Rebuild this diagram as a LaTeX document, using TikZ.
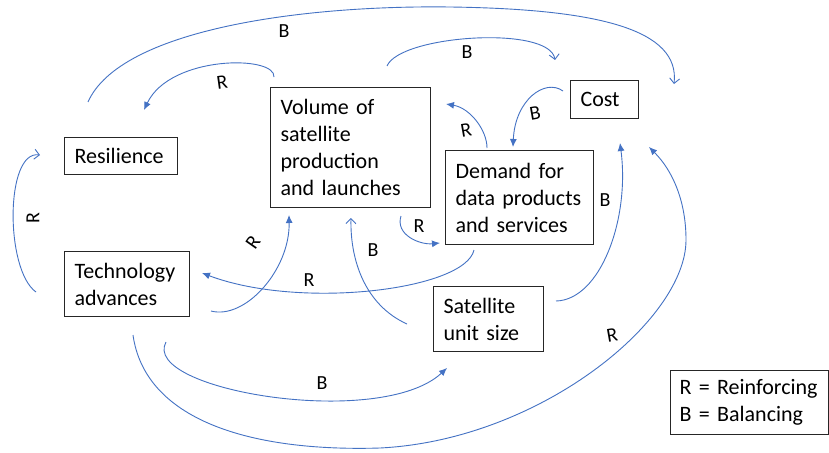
\documentclass[tikz,border=0pt]{standalone}
\usepackage{fontspec}
\setmainfont{Carlito}
\usetikzlibrary{arrows.meta}
\definecolor{linkblue}{HTML}{4472C4}
\begin{document}
\begin{tikzpicture}[x=1pt,y=-1pt,
  box/.style={draw=black!85,line width=1.1pt,anchor=north west,align=left,
    inner xsep=10pt,inner ysep=2pt,font=\fontsize{22}{27}\selectfont},
  link/.style={draw=linkblue,line width=0.9pt},
  fa/.style={link,-{Latex[length=8pt,width=7pt]}},
  oa/.style={link,-{Straight Barb[length=5pt,width=10pt]}},
  lab/.style={font=\fontsize{20}{24}\selectfont,inner sep=0pt}]
\useasboundingbox (0,0) rectangle (829,452);
\fill[white] (0,0) rectangle (829,452);

% boxes
\node[box,text width=93pt,minimum height=37pt] (res) at (64,137) {Resilience};
\node[box,text width=140pt,minimum height=120pt] (vol) at (270,87) {Volume of\\satellite\\production\\and launches};
\node[box,text width=48pt,minimum height=38pt] (cost) at (570,80) {Cost};
\node[box,text width=128pt,minimum height=94pt] (dem) at (445,150) {\mbox{Demand for}\\\mbox{data products}\\\mbox{and services}};
\node[box,text width=105pt,minimum height=65pt] (tech) at (64,251) {Technology\\advances};
\node[box,text width=90pt,minimum height=65pt] (sat) at (433,286) {Satellite\\unit size};
\node[box,text width=140pt,inner xsep=9pt,minimum height=64pt] (leg) at (670,370) {\mbox{R = Reinforcing}\\\mbox{B = Balancing}};

% connector end points
\coordinate (aS) at (88,102);   \coordinate (aE) at (674,84);
\coordinate (bS) at (274,77);   \coordinate (bE) at (144,110);
\coordinate (cS) at (387,66);   \coordinate (cE) at (555,60);
\coordinate (dS) at (563,91);   \coordinate (dE) at (513,147);
\coordinate (eS) at (487,148);  \coordinate (eE) at (446,104);
\coordinate (fS) at (36,292);   \coordinate (fE) at (40,155);
\coordinate (gS) at (211,311);  \coordinate (gE) at (289,215);
\coordinate (hS) at (407,324);  \coordinate (hE) at (351,218);
\coordinate (iS) at (401,216);  \coordinate (iE) at (440,243);
\coordinate (jS) at (474,250);  \coordinate (jE) at (202,273);
\coordinate (kS) at (556,301);  \coordinate (kE) at (620,143);
\coordinate (lS) at (133,335);  \coordinate (lE) at (649,147);
\coordinate (mS) at (166,342);  \coordinate (mE) at (447,368);

% connectors
\draw[oa] (aS) .. controls (120,30) and (300,5) .. (450,7) .. controls (600,9) and (680,30) .. (aE);
\draw[fa] (bS) .. controls (276,55) and (170,55) .. (bE);
\draw[oa] (cS) .. controls (400,35) and (550,25) .. (cE);
\draw[fa] (dS) .. controls (545,78) and (515,100) .. (dE);
\draw[fa] (eS) .. controls (487,130) and (470,108) .. (eE);
\draw[oa] (fS) .. controls (5,270) and (5,150) .. (fE);
\draw[fa] (gS) .. controls (245,320) and (290,270) .. (gE);
\draw[oa] (hS) .. controls (365,305) and (350,260) .. (hE);
\draw[fa] (iS) .. controls (395,235) and (420,245) .. (iE);
\draw[fa] (jS) .. controls (465,290) and (300,310) .. (jE);
\draw[fa] (kS) .. controls (600,300) and (630,220) .. (kE);
\draw[fa] (lS) .. controls (145,420) and (250,452) .. (380,448)
  .. controls (540,440) and (686,320) .. (686,240)
  .. controls (686,200) and (672,170) .. (lE);
\draw[fa] (mS) .. controls (140,390) and (380,430) .. (mE);

% loop labels
\node[lab] (lb1) at (284,31) {B};
\node[lab,rotate=8] (lb2) at (222,82) {R};
\node[lab] (lb3) at (467,52) {B};
\node[lab,rotate=10] (lb4) at (535,113) {B};
\node[lab,rotate=10] (lb5) at (466,130) {R};
\node[lab,rotate=90] (lb6) at (33,218) {R};
\node[lab,rotate=55] (lb7) at (253,242) {R};
\node[lab] (lb8) at (373,250) {B};
\node[lab] (lb9) at (419,226) {R};
\node[lab] (lb10) at (309,280) {R};
\node[lab] (lb11) at (605,200) {B};
\node[lab,rotate=10] (lb12) at (612,335) {R};
\node[lab] (lb13) at (322,383) {B};
\end{tikzpicture}
\end{document}
